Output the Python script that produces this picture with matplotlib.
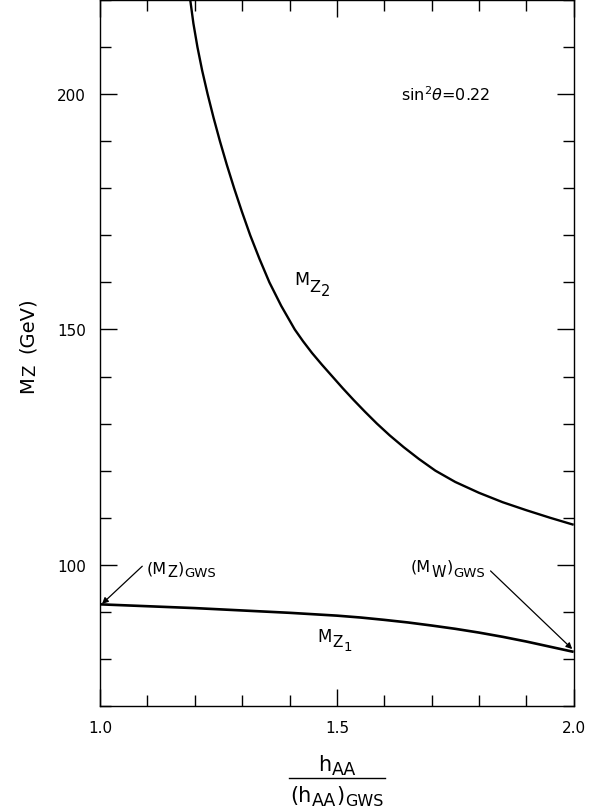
import matplotlib
matplotlib.use("Agg")
import matplotlib.pyplot as plt
from matplotlib.ticker import MultipleLocator
from matplotlib.lines import Line2D
from matplotlib.transforms import offset_copy

# Data
x_z2 = [1.189, 1.197, 1.2055, 1.2155, 1.227, 1.2395, 1.253, 1.2675, 1.283,
        1.2995, 1.317, 1.3365, 1.3575, 1.3825, 1.411, 1.4285, 1.4475, 1.4685,
        1.4905, 1.5125, 1.5355, 1.5595, 1.5845, 1.6115, 1.641, 1.673, 1.708,
        1.75, 1.80, 1.85, 1.90, 1.95, 2.00]
m_z2 = [221.0, 215.0, 210.0, 205.0, 200.0, 195.0, 190.0, 185.0, 180.0,
        175.0, 170.0, 165.0, 160.0, 155.0, 150.0, 147.5, 145.0, 142.5,
        140.0, 137.5, 135.0, 132.5, 130.0, 127.5, 125.0, 122.5, 120.0,
        117.6, 115.3, 113.3, 111.6, 110.0, 108.5]

x_z1 = [1.0, 1.05, 1.1, 1.15, 1.2, 1.25, 1.3, 1.35, 1.4, 1.45, 1.5,
        1.55, 1.6, 1.65, 1.7, 1.75, 1.8, 1.85, 1.9, 1.95, 2.0]
m_z1 = [91.6, 91.4, 91.2, 91.0, 90.8, 90.55, 90.3, 90.05, 89.8, 89.5, 89.2,
        88.8, 88.3, 87.75, 87.1, 86.4, 85.6, 84.7, 83.7, 82.6, 81.5]

x_ticks = [1.0, 1.5, 2.0]
x_ticklabels = ["1.0", "1.5", "2.0"]
y_ticks = [100, 150, 200]
y_ticklabels = ["100", "150", "200"]

plt.rcParams['font.family'] = ['DejaVu Sans']
plt.rcParams['mathtext.fontset'] = 'dejavusans'

fig = plt.figure(figsize=(5.96, 8.12), dpi=100)
ax = fig.add_axes([0.168, 0.1293, 0.7945, 0.8695])
renderer = fig.canvas.get_renderer()


def measure(s, fs):
    t = fig.text(0, 0, s, fontsize=fs)
    w = t.get_window_extent(renderer).width * 72.0 / fig.dpi
    t.remove()
    return w


def chain(x, y, pieces, transform, ha='left', rotation=0, gap=0.3):
    # pieces: (text, fontsize, baseline shift in pt[, extra space before in pt])
    pieces = [p if len(p) == 4 else (p[0], p[1], p[2], 0.0) for p in pieces]
    widths = [measure(s, fs) for s, fs, dy, pre in pieces]
    total = sum(widths) + gap * (len(pieces) - 1) + sum(p[3] for p in pieces)
    adv = 0.0 if ha == 'left' else -total / 2.0
    for (s, fs, dy, pre), w in zip(pieces, widths):
        adv += pre
        if rotation == 0:
            ox, oy = adv, dy
        else:
            ox, oy = -dy, adv
        tr = offset_copy(transform, fig=fig, x=ox, y=oy, units='points')
        fig.text(x, y, s, fontsize=fs, transform=tr, ha='left', va='baseline',
                 rotation=rotation, rotation_mode='anchor')
        adv += w + gap


ax.plot(x_z2, m_z2, color='black', lw=1.7, solid_capstyle='butt',
        solid_joinstyle='round')
ax.plot(x_z1, m_z1, color='black', lw=1.9, solid_capstyle='butt',
        solid_joinstyle='round')

ax.set_xlim(1.0, 2.0)
ax.set_ylim(70, 220)

ax.set_xticks(x_ticks)
ax.set_xticklabels(x_ticklabels)
ax.set_yticks(y_ticks)
ax.set_yticklabels(y_ticklabels)
ax.xaxis.set_minor_locator(MultipleLocator(0.1))
ax.yaxis.set_minor_locator(MultipleLocator(10))

ax.tick_params(which='both', direction='in', top=True, right=True,
               labelsize=11, width=1.0)
ax.tick_params(which='major', length=12)
ax.tick_params(which='minor', length=8)
ax.tick_params(axis='x', which='major', pad=10)
ax.tick_params(axis='y', which='major', pad=10)
for s in ax.spines.values():
    s.set_linewidth(1.0)

# Curve labels
chain(1.409, 159.6, [("M", 12.5, 0), ("Z", 11.5, -4.5), ("2", 10.5, -7.5)],
      ax.transData)
chain(1.4596, 83.8, [("M", 12, 0), ("Z", 11, -3.8), ("1", 9.5, -6.2)],
      ax.transData)
ax.text(1.635, 198.7, r'$\mathrm{sin^2}\theta$=0.22', fontsize=11.5,
        ha='left', va='baseline')

# Annotations
chain(1.098, 98.4, [("(M", 11.5, 0), ("Z", 10.5, -2.6), (")", 11.5, 0),
                    ("GWS", 9.5, -2.6)], ax.transData)
ax.annotate('', xy=(1.004, 91.7), xytext=(1.089, 99.7),
            arrowprops=dict(arrowstyle='-|>', color='black', lw=0.9,
                            mutation_scale=9, shrinkA=0, shrinkB=0))
chain(1.656, 98.7, [("(M", 11.5, 0), ("W", 10.5, -3.6), (")", 11.5, 0),
                    ("GWS", 9.5, -3.6)], ax.transData)
ax.annotate('', xy=(1.997, 82.1), xytext=(1.8245, 98.7),
            arrowprops=dict(arrowstyle='-|>', color='black', lw=0.9,
                            mutation_scale=9, shrinkA=0, shrinkB=0))

# Y label (rotated)
chain(33.3 / 596, 1 - 393.3 / 812,
      [("M", 14, 0), ("Z", 12, -1.5), ("(GeV)", 14, 0, 8.0)],
      fig.transFigure, rotation=90)

# X label as a fraction
cx = 0.5 * (ax.get_position().x0 + ax.get_position().x1)
chain(cx, 1 - 771 / 812, [("h", 15, 0), ("AA", 12.5, -3)], fig.transFigure,
      ha='center')
fig.add_artist(Line2D([cx - 48 / 596, cx + 48 / 596],
                      [1 - 779 / 812, 1 - 779 / 812],
                      color='black', lw=1.0, transform=fig.transFigure))
chain(cx, 1 - 802 / 812, [("(h", 15, 0), ("AA", 12.5, -3), (")", 15, 0),
                          ("GWS", 11.5, -3)], fig.transFigure, ha='center')

fig.savefig('out.png', dpi=100)
